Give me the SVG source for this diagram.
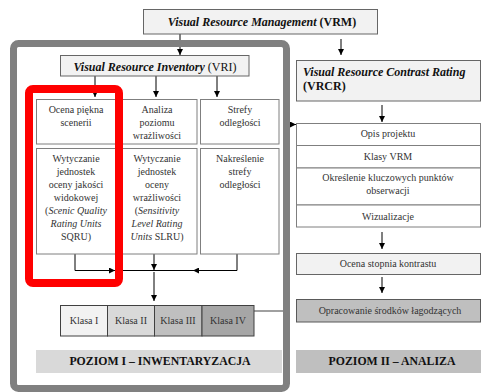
<svg xmlns="http://www.w3.org/2000/svg" width="481" height="392" viewBox="0 0 481 392" font-family="'Liberation Serif', 'Times New Roman', serif">
<defs>
<marker id="ah" markerUnits="userSpaceOnUse" markerWidth="6" markerHeight="6" refX="6" refY="3" orient="auto"><path d="M0,0 L6,3 L0,6 z" fill="#000"/></marker>
<style>
text{font-family:'Liberation Serif','Times New Roman',serif}
.t{font-size:10px;fill:#333;text-anchor:middle}
.h{font-size:12px;font-weight:bold;fill:#111}
.bi{font-style:italic}
.it{font-style:italic}
.b{fill:#fff;stroke:#7f7f7f;stroke-width:1}
.g{fill:#f2f2f2;stroke:#666;stroke-width:1}
.k{stroke:#404040;stroke-width:1}
.c{stroke:#000;stroke-width:1;fill:none}
.p{font-size:11.8px;font-weight:bold;fill:#111;text-anchor:middle}
</style>
</defs>
<rect width="481" height="392" fill="#fff"/>
<g id="connectors">
<line class="c" x1="180" y1="34" x2="180" y2="55" marker-end="url(#ah)"/>
<line class="c" x1="341" y1="39" x2="341" y2="55" marker-end="url(#ah)"/>
<line class="c" x1="95" y1="76" x2="95" y2="97" marker-end="url(#ah)"/>
<line class="c" x1="156" y1="76" x2="156" y2="97" marker-end="url(#ah)"/>
<line class="c" x1="217" y1="76" x2="217" y2="97" marker-end="url(#ah)"/>
<polyline class="c" points="75,254 75,270.5 115,270.5" marker-end="url(#ah)"/>
<line class="c" x1="115" y1="270.5" x2="154" y2="270.5"/>
<polyline class="c" points="237,254 237,270.5 193,270.5" marker-end="url(#ah)"/>
<line class="c" x1="193" y1="270.5" x2="154" y2="270.5"/>
<line class="c" x1="154" y1="254" x2="154" y2="270" marker-end="url(#ah)"/>
<line class="c" x1="154" y1="272" x2="154" y2="301" marker-end="url(#ah)"/>
<line x1="254" y1="311" x2="286" y2="311" stroke="#808080" stroke-width="1.5"/>
<line class="c" x1="382" y1="105" x2="382" y2="122" marker-end="url(#ah)"/>
<line class="c" x1="382" y1="232" x2="382" y2="249" marker-end="url(#ah)"/>
<line class="c" x1="382" y1="277" x2="382" y2="293" marker-end="url(#ah)"/>
<line class="c" x1="288" y1="124.5" x2="296" y2="124.5" marker-end="url(#ah)"/>
</g>
<rect id="frame" x="13.5" y="43.5" width="273" height="345" rx="5" fill="none" stroke="#808080" stroke-width="7"/>
<g id="vrm">
<rect class="g" x="143.5" y="9.5" width="234" height="24.5"/>
<text class="h" x="262" y="25.5" text-anchor="middle" font-size="12.5"><tspan class="bi">Visual Resource Management</tspan> (VRM)</text>
</g>
<g id="vri">
<rect class="g" x="60.5" y="55.5" width="188.5" height="20.5"/>
<text class="h" x="155" y="70.5" text-anchor="middle"><tspan class="bi">Visual Resource Inventory</tspan> <tspan font-weight="normal">(VRI)</tspan></text>
</g>
<g id="col1top">
<rect class="b" x="36.5" y="99.5" width="79.5" height="44.5"/>
<text class="t" x="76" y="112.5">Ocena piękna</text>
<text class="t" x="76" y="125.5">scenerii</text>
</g>
<g id="col2top">
<rect class="b" x="116" y="99.5" width="81" height="44.5"/>
<text class="t" x="157" y="112.5">Analiza</text>
<text class="t" x="157" y="125.5">poziomu</text>
<text class="t" x="157" y="138.5">wrażliwości</text>
</g>
<g id="col3top">
<rect class="b" x="200.5" y="99.5" width="78.5" height="44.5"/>
<text class="t" x="240" y="112.5">Strefy</text>
<text class="t" x="240" y="125.5">odległości</text>
</g>
<g id="col1bot">
<rect class="b" x="36.5" y="148.5" width="79.5" height="105.5"/>
<text class="t" x="76" y="162">Wytyczanie</text>
<text class="t" x="76" y="175">jednostek</text>
<text class="t" x="76" y="188">oceny jakości</text>
<text class="t" x="76" y="201">widokowej</text>
<text class="t" x="76" y="214">(<tspan class="it">Scenic Quality</tspan></text>
<text class="t it" x="76" y="227">Rating Units</text>
<text class="t" x="76" y="240">SQRU)</text>
</g>
<g id="col2bot">
<rect class="b" x="116" y="148.5" width="81" height="105.5"/>
<text class="t" x="157" y="162">Wytyczanie</text>
<text class="t" x="157" y="175">jednostek</text>
<text class="t" x="157" y="188">oceny</text>
<text class="t" x="157" y="201">wrażliwości</text>
<text class="t" x="157" y="214">(<tspan class="it">Sensitivity</tspan></text>
<text class="t it" x="157" y="227">Level Rating</text>
<text class="t" x="157" y="240"><tspan class="it">Units</tspan> SLRU)</text>
</g>
<g id="col3bot">
<rect class="b" x="200.5" y="148.5" width="78.5" height="105.5"/>
<text class="t" x="240" y="162">Nakreślenie</text>
<text class="t" x="240" y="175">strefy</text>
<text class="t" x="240" y="188">odległości</text>
</g>
<g id="klasy">
<rect class="k" x="60.5" y="305.5" width="47" height="30.5" fill="#f2f2f2"/>
<rect class="k" x="107.5" y="305.5" width="47" height="30.5" fill="#d9d9d9"/>
<rect class="k" x="154.5" y="305.5" width="47.5" height="30.5" fill="#bfbfbf"/>
<rect class="k" x="202" y="305.5" width="52" height="30.5" fill="#a6a6a6"/>
<text class="t" x="84" y="324" font-size="10.5">Klasa I</text>
<text class="t" x="131" y="324" font-size="10.5">Klasa II</text>
<text class="t" x="178" y="324" font-size="10.5">Klasa III</text>
<text class="t" x="228" y="324" font-size="10.5">Klasa IV</text>
</g>
<g id="poziom1">
<rect x="36" y="350" width="246" height="23" fill="#d9d9d9"/>
<text class="p" x="160" y="365">POZIOM I – INWENTARYZACJA</text>
</g>
<g id="vrcr">
<rect class="g" x="296.5" y="60.5" width="184" height="40.5"/>
<text class="h bi" x="303" y="76">Visual Resource Contrast Rating</text>
<text class="h" x="303" y="90">(VRCR)</text>
</g>
<g id="opis">
<rect class="b" x="296.5" y="123.5" width="184" height="22"/>
<text class="t" x="388" y="137">Opis projektu</text>
</g>
<g id="klasyvrm">
<rect class="b" x="296.5" y="145.5" width="184" height="22.5"/>
<text class="t" x="388" y="160">Klasy VRM</text>
</g>
<g id="punkty">
<rect class="b" x="296.5" y="168" width="184" height="37"/>
<text class="t" x="388" y="181">Określenie kluczowych punktów</text>
<text class="t" x="388" y="194">obserwacji</text>
</g>
<g id="wizualizacje">
<rect class="b" x="296.5" y="205" width="184" height="22"/>
<text class="t" x="388" y="219.5">Wizualizacje</text>
</g>
<g id="ocena">
<rect class="g" x="296.5" y="253.5" width="184" height="21"/>
<text class="t" x="388" y="267">Ocena stopnia kontrastu</text>
</g>
<g id="opracowanie">
<rect x="296.5" y="299.5" width="184" height="22.5" fill="#bfbfbf" stroke="#595959" stroke-width="1"/>
<text class="t" x="390" y="314">Opracowanie środków łagodzących</text>
</g>
<g id="poziom2">
<rect x="296" y="350" width="185" height="23" fill="#bfbfbf"/>
<text class="p" x="392" y="365">POZIOM II – ANALIZA</text>
</g>
<rect id="highlight" x="29" y="89" width="90" height="194" rx="4" fill="none" stroke="#ff0000" stroke-width="8"/>
</svg>
